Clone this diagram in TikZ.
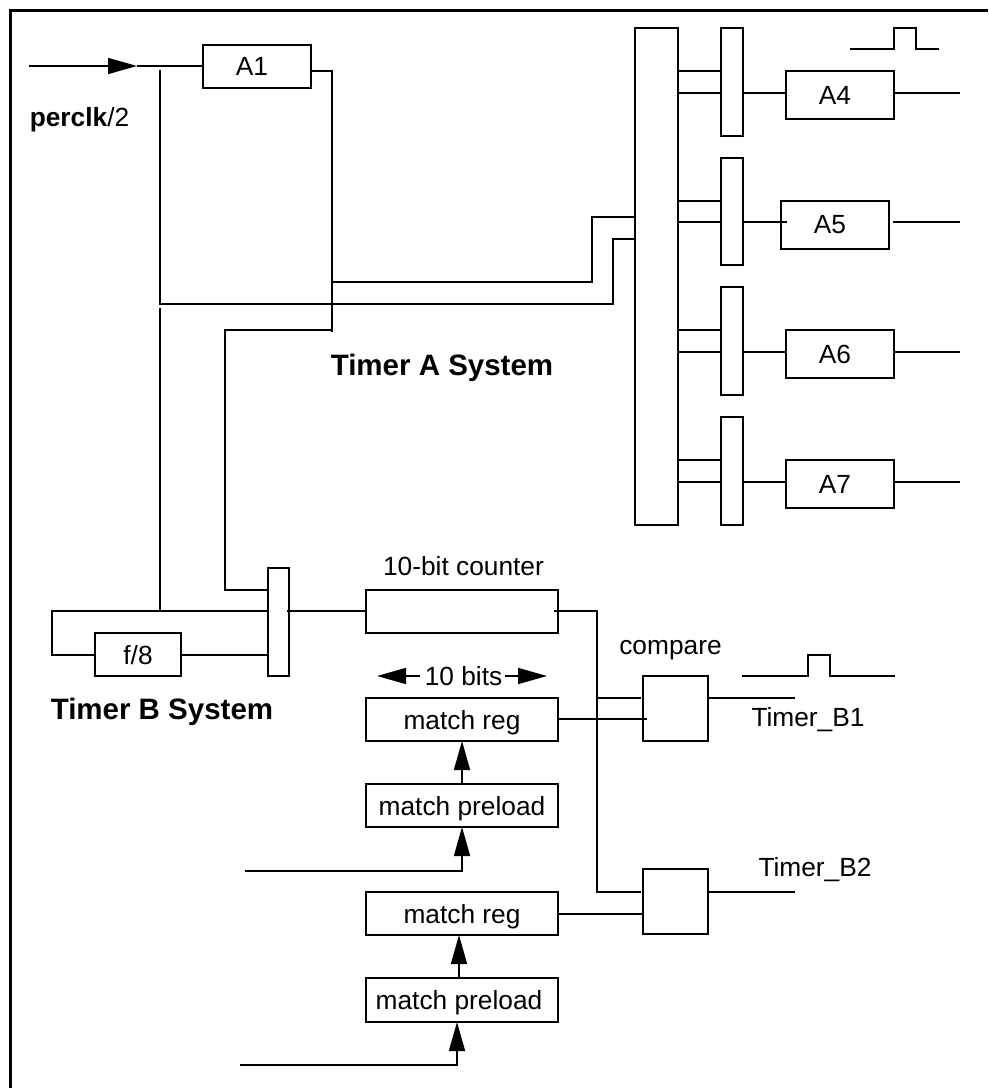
\documentclass[tikz,border=0pt]{standalone}
\usepackage{fontspec}
\setmainfont{Liberation Sans}
\usetikzlibrary{positioning}
\usetikzlibrary{arrows.meta}
\tikzset{
    frameline/.style = {line width=3.2pt},
    wire/.style = {line width=1.6pt},
    pointer/.style = {line width=1.6pt,-{Triangle[length=29pt,width=16pt]}},
    cell/.style = {rectangle, line width=1.6pt, draw=black, outer sep=0pt, inner sep=0pt, fill=white, text depth=0pt, font=\fontsize{26.3}{30}\selectfont},
    txt/.style = {inner sep=0pt, font=\fontsize{26.3}{30}\selectfont},
    txtb/.style = {inner sep=0pt, font=\fontsize{29.5}{33}\selectfont\bfseries},
    alabel/.style = {label={[txt,xshift=-5pt]center:#1}}
}

\begin{document}
\begin{tikzpicture}[x=1pt,y=-1pt]
\useasboundingbox (0,0) rectangle (988,1089);
% outer frame
\coordinate (fa) at (10.5,1088);
\coordinate (fb) at (10.5,10.5);
\coordinate (fc) at (988,10.5);
\draw[frameline] (fa) -- (fb) -- (fc);
%
\node[cell, minimum width=108pt, minimum height=43pt, alabel=A1] at (257,66.5) (a1) {};
\node[cell, minimum width=43pt, minimum height=497pt] at (656.5,276.5) (bus) {};
\node[cell, minimum width=22pt, minimum height=108pt] at (732,82) (m1) {};
\node[cell, minimum width=22pt, minimum height=107pt] at (732,211.5) (m2) {};
\node[cell, minimum width=22pt, minimum height=108pt] at (732,341) (m3) {};
\node[cell, minimum width=22pt, minimum height=108pt] at (732,471) (m4) {};
\node[cell, minimum width=108pt, minimum height=48pt, alabel=A4] at (840,95) (a4) {};
\node[cell, minimum width=108pt, minimum height=48pt, alabel=A5] at (835,225) (a5) {};
\node[cell, minimum width=108pt, minimum height=48pt, alabel=A6] at (840,354) (a6) {};
\node[cell, minimum width=108pt, minimum height=48pt, alabel=A7] at (840,484) (a7) {};
%
\node[cell, minimum width=21pt, minimum height=108pt] at (278.5,622) (mb) {};
\node[cell, minimum width=86pt, minimum height=43pt] at (138,654.5) (f8) {f/8};
\node[cell, minimum width=192pt, minimum height=43pt] at (462,611.5) (cnt) {};
\node[cell, minimum width=192pt, minimum height=43pt] at (462,719.5) (reg1) {match reg};
\node[cell, minimum width=192pt, minimum height=43pt] at (462,805.5) (pre1) {match preload};
\node[cell, minimum width=192pt, minimum height=43pt] at (462,913.5) (reg2) {match reg};
\node[cell, minimum width=192pt, minimum height=44pt] at (462,1000) (pre2) {\hspace*{-6pt}match preload};
\node[cell, minimum width=65pt, minimum height=65pt] at (675.5,708.5) (cmp1) {};
\node[cell, minimum width=65pt, minimum height=65pt] at (675.5,901.5) (cmp2) {};
%
\node[txt] at (79.5,120) (perclk) {\textbf{perclk}/2};
\node[txtb] at (442,368) (sysa) {Timer A System};
\node[txtb] at (162,712) (sysb) {Timer B System};
\node[txt] at (463.5,566) (cntl) {10-bit counter};
\node[txt] at (463.5,676) (bits) {10 bits};
\node[txt] at (670.5,650) (cmpl) {compare};
\node[txt] at (808,720) (tb1) {Timer\_B1};
\node[txt] at (815,870) (tb2) {Timer\_B2};
%
% clock input
\coordinate (clkin) at (29,66);
\coordinate (clktip) at (137,66);
\draw[pointer] (clkin) -- (clktip);
\draw[wire] (clktip) -- (a1.west |- clktip);
%
% timer A wiring
\draw[wire] (a1.east |- 0,71) -| (332,332);
\draw[wire] (332,282) -| (592,217) -- (bus.west |- 0,217);
\draw[wire] (160,70) |- (613,304) |- (bus.west |- 0,239);
\draw[wire] (160,308) -- (160,611);
\draw[wire] (333,330) -| (225,590) -- (mb.west |- 0,590);
%
\draw[wire] (bus.east |- 0,71) -- (m1.west |- 0,71);
\draw[wire] (bus.east |- 0,93) -- (m1.west |- 0,93);
\draw[wire] (bus.east |- 0,201) -- (m2.west |- 0,201);
\draw[wire] (bus.east |- 0,222) -- (m2.west |- 0,222);
\draw[wire] (bus.east |- 0,330) -- (m3.west |- 0,330);
\draw[wire] (bus.east |- 0,352) -- (m3.west |- 0,352);
\draw[wire] (bus.east |- 0,460) -- (m4.west |- 0,460);
\draw[wire] (bus.east |- 0,482) -- (m4.west |- 0,482);
%
\draw[wire] (m1.east |- 0,93) -- (a4.west |- 0,93);
\draw[wire] (m2.east |- 0,222) -- (787,222);
\draw[wire] (m3.east |- 0,352) -- (a6.west |- 0,352);
\draw[wire] (m4.east |- 0,482) -- (a7.west |- 0,482);
%
\draw[wire] (a4.east |- 0,93) -- (960,93);
\draw[wire] (893,222) -- (960,222);
\draw[wire] (a6.east |- 0,352) -- (960,352);
\draw[wire] (a7.east |- 0,482) -- (960,482);
%
% pulses
\draw[wire] (850,49) -| (894,28) -| (916,50);
\draw[wire] (916,49) -- (939,49);
\draw[wire] (742,676) -| (808,655) -| (830,676) -- (895,676);
%
% timer B wiring
\draw[wire] (mb.west |- 0,611) -| (52,655) -- (f8.west |- 0,655);
\draw[wire] (f8.east |- 0,655) -- (mb.west |- 0,655);
\draw[wire] (287,611) -- (cnt.west |- 0,611);
\draw[wire] (554,611) -| (597,892) -- (641,892);
\draw[wire] (597,698) -- (641,698);
\draw[wire] (reg1.east |- 0,719) -- (647,719);
\draw[wire] (557,914) -- (cmp2.west |- 0,914);
\draw[wire] (cmp1.east |- 0,698) -- (795,698);
\draw[wire] (cmp2.east |- 0,892) -- (795,892);
%
% 10 bits span
\coordinate (spana) at (377,676);
\coordinate (spanb) at (420,676);
\coordinate (spanc) at (505,676);
\coordinate (spand) at (547,676);
\draw[pointer] (spanb) -- (spana);
\draw[pointer] (spanc) -- (spand);
%
% load arrows
\draw[pointer] (pre1.north) -- (reg1.south);
\draw[pointer] (pre2.north -| 459,0) -- (reg2.south -| 459,0);
\coordinate (loada) at (245,871);
\coordinate (loadb) at (240,1065);
\draw[pointer] (loada) -| (pre1.south);
\draw[pointer] (loadb) -| (pre2.south -| 457,0);

\end{tikzpicture}
\end{document}
